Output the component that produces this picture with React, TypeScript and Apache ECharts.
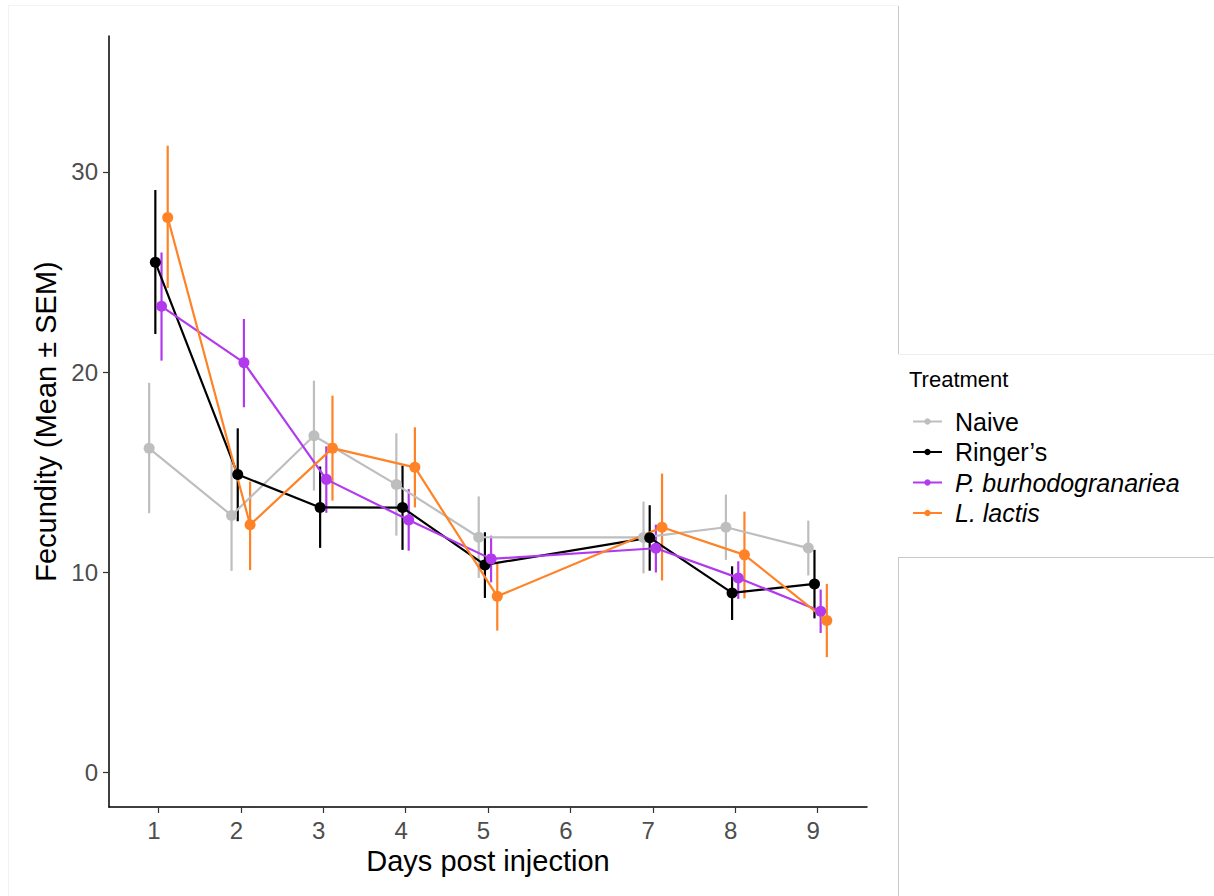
import React, { useEffect, useRef } from "react";
import * as echarts from "echarts";

const days = [1, 2, 3, 4, 5, 7, 8, 9];
const axisDays = [1, 2, 3, 4, 5, 6, 7, 8, 9];
const yTicks = [0, 10, 20, 30];
const treatments = ["Naive", "Ringer\u2019s", "P. burhodogranariea", "L. lactis"];
const colors = ["#BEBEBE", "#000000", "#B23AEE", "#FF8326"];
const dodge = [-0.1125, -0.0375, 0.0375, 0.1125];

const naiveMean = [16.19, 12.84, 16.82, 14.38, 11.75, 11.74, 12.25, 11.21];
const naiveLo = [12.95, 10.07, 14.08, 11.83, 9.72, 9.95, 10.62, 9.84];
const naiveHi = [19.46, 15.61, 19.57, 16.94, 13.79, 13.53, 13.88, 12.58];

const ringerMean = [25.48, 14.88, 13.24, 13.23, 10.37, 11.73, 8.97, 9.42];
const ringerLo = [21.9, 12.55, 11.22, 11.12, 8.72, 10.08, 7.62, 7.7];
const ringerHi = [29.09, 17.19, 15.28, 15.33, 12.0, 13.35, 10.3, 11.12];

const pburMean = [23.28, 20.47, 14.64, 12.61, 10.67, 11.2, 9.72, 8.05];
const pburLo = [20.57, 18.24, 12.97, 11.08, 9.5, 9.99, 8.67, 6.97];
const pburHi = [25.97, 22.65, 16.29, 14.16, 11.83, 12.38, 10.55, 9.14];

const llacMean = [27.72, 12.37, 16.2, 15.24, 8.8, 12.25, 10.87, 7.59];
const llacLo = [24.2, 10.11, 13.58, 13.24, 7.09, 9.59, 8.7, 5.76];
const llacHi = [31.3, 14.53, 18.82, 17.24, 10.51, 14.93, 13.03, 9.42];

const means = [naiveMean, ringerMean, pburMean, llacMean];
const los = [naiveLo, ringerLo, pburLo, llacLo];
const his = [naiveHi, ringerHi, pburHi, llacHi];

export default function App() {
  const ref = useRef<HTMLDivElement>(null);
  useEffect(() => {
    if (!ref.current) return;
    const chart = echarts.init(ref.current, undefined, { renderer: "svg" });
    const font = "'Liberation Sans', Arial, Helvetica, sans-serif";

    const errSeries = treatments.map((t, i) => ({
      name: t + " SEM",
      type: "custom",
      z: 2,
      data: days.map((d, k) => [d + dodge[i], los[i][k], his[i][k]]),
      encode: { x: 0, y: [1, 2] },
      renderItem: (params: any, api: any) => {
        const x = api.value(0);
        const p1 = api.coord([x, api.value(1)]);
        const p2 = api.coord([x, api.value(2)]);
        return {
          type: "line",
          shape: { x1: p1[0], y1: p1[1], x2: p2[0], y2: p2[1] },
          style: { stroke: colors[i], lineWidth: 2.2 },
        };
      },
    }));

    const lineSeries = treatments.map((t, i) => ({
      name: t,
      type: "line",
      z: 3,
      data: days.map((d, k) => [d + dodge[i], means[i][k]]),
      symbol: "circle",
      symbolSize: 11,
      showAllSymbol: true,
      itemStyle: { color: colors[i] },
      lineStyle: { color: colors[i], width: 2.2 },
      emphasis: { disabled: true },
    }));

    const italic = (n: string) => n.startsWith("P.") || n.startsWith("L.");

    chart.setOption({
      animation: false,
      backgroundColor: "#ffffff",
      textStyle: { fontFamily: font },
      title: {
        text: "Treatment",
        left: 909,
        top: 368,
        padding: 0,
        textStyle: { fontSize: 22, fontWeight: "normal", color: "#000", fontFamily: font },
      },
      legend: {
        data: treatments,
        orient: "vertical",
        left: 912,
        top: 409,
        padding: 0,
        itemWidth: 29,
        itemHeight: 8,
        itemGap: 5.5,
        selectedMode: false,
        formatter: (name: string) => (italic(name) ? `{i|${name}}` : `{n|${name}}`),
        textStyle: {
          fontFamily: font,
          fontSize: 25,
          color: "#000",
          rich: {
            n: { fontSize: 25, fontFamily: font, color: "#000", lineHeight: 24, padding: [0, 0, 0, 8] },
            i: { fontSize: 25, fontFamily: font, color: "#000", fontStyle: "italic", lineHeight: 24, padding: [0, 0, 0, 8] },
          },
        },
      },
      grid: { left: 109, right: 347, top: 36, bottom: 89, containLabel: false },
      xAxis: {
        type: "value",
        min: 0.4,
        max: 9.6,
        name: "Days post injection",
        nameLocation: "middle",
        nameGap: 33,
        nameTextStyle: { fontSize: 29, color: "#000", fontFamily: font },
        axisLine: { show: true, onZero: false, lineStyle: { color: "#000", width: 1.5 } },
        axisTick: { show: true, length: 6, customValues: axisDays, lineStyle: { color: "#333", width: 1.2 } },
        axisLabel: {
          customValues: axisDays,
          fontSize: 24,
          color: "#4D4D4D",
          margin: 11,
          padding: [0, 9, 0, 0],
          fontFamily: font,
          formatter: (v: number) => String(v),
        },
        splitLine: { show: false },
      },
      yAxis: {
        type: "value",
        min: -1.72,
        max: 36.78,
        name: "Fecundity (Mean \u00B1 SEM)",
        nameLocation: "middle",
        nameGap: 47,
        nameTextStyle: { fontSize: 29, color: "#000", fontFamily: font },
        axisLine: { show: true, onZero: false, lineStyle: { color: "#000", width: 1.5 } },
        axisTick: { show: true, length: 6, customValues: yTicks, lineStyle: { color: "#333", width: 1.2 } },
        axisLabel: {
          customValues: yTicks,
          fontSize: 24,
          color: "#4D4D4D",
          margin: 11,
          fontFamily: font,
          formatter: (v: number) => String(v),
        },
        splitLine: { show: false },
      },
      graphic: [
        { type: "line", silent: true, shape: { x1: 898.5, y1: 6, x2: 898.5, y2: 354 }, style: { stroke: "#c8c8c8", lineWidth: 1 } },
        { type: "line", silent: true, shape: { x1: 898, y1: 354.5, x2: 1214, y2: 354.5 }, style: { stroke: "#eeeeee", lineWidth: 1 } },
        { type: "line", silent: true, shape: { x1: 898, y1: 557.5, x2: 1214, y2: 557.5 }, style: { stroke: "#c8c8c8", lineWidth: 1 } },
        { type: "line", silent: true, shape: { x1: 898.5, y1: 557, x2: 898.5, y2: 896 }, style: { stroke: "#c8c8c8", lineWidth: 1 } },
        { type: "line", silent: true, shape: { x1: 8, y1: 5.5, x2: 898, y2: 5.5 }, style: { stroke: "#f4f4f4", lineWidth: 1 } },
        { type: "line", silent: true, shape: { x1: 8.5, y1: 5, x2: 8.5, y2: 896 }, style: { stroke: "#f2f2f2", lineWidth: 1 } },
      ],
      series: [...errSeries, ...lineSeries],
    });
    return () => chart.dispose();
  }, []);
  return (
    <div
      ref={ref}
      style={{ position: "fixed", left: 0, top: 0, width: 1214, height: 896, background: "#fff" }}
    />
  );
}
